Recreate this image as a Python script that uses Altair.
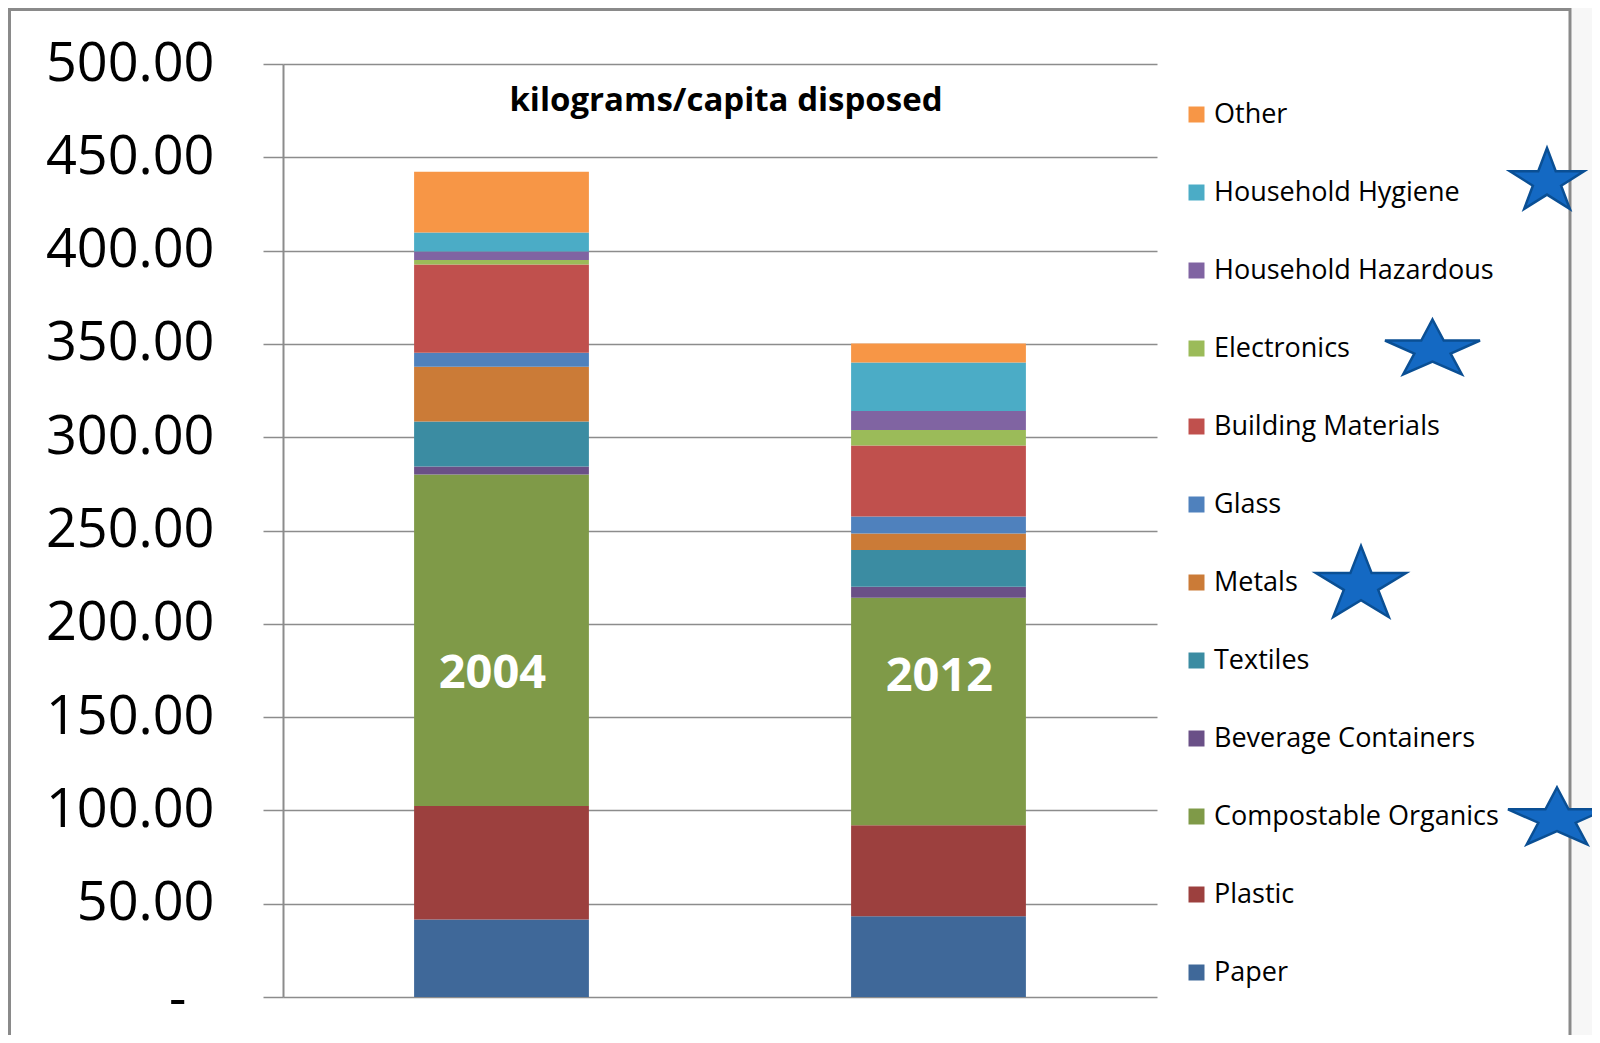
import math
import altair as alt
import pandas as pd

# ---- data (kilograms per capita disposed) ----
years = ["2004", "2012"]
categories = ["Paper", "Plastic", "Compostable Organics", "Beverage Containers",
              "Textiles", "Metals", "Glass", "Building Materials", "Electronics",
              "Household Hazardous", "Household Hygiene", "Other"]
values_2004 = [41.5, 60.9, 177.6, 4.3, 24.1, 29.3, 7.5, 47.3, 2.5, 4.5, 10.2, 32.6]
values_2012 = [43.3, 48.8, 121.8, 5.9, 19.8, 8.8, 9.1, 38.0, 8.4, 10.2, 25.9, 10.2]
colors_bottom_up = ["#3F6899", "#9C403E", "#7F9A48", "#6A5087", "#3B8CA2", "#CB7B37",
                    "#4F81BD", "#C0504D", "#9BBB59", "#8064A2", "#4BACC6", "#F79646"]
y_ticks = [0, 50, 100, 150, 200, 250, 300, 350, 400, 450, 500]
chart_title = "kilograms/capita disposed"

rows = []
for yr, vals in zip(years, [values_2004, values_2012]):
    for i, (c, v) in enumerate(zip(categories, vals)):
        rows.append({"year": yr, "category": c, "value": v, "order": i})
df = pd.DataFrame(rows)

legend_order = categories[::-1]
legend_colors = colors_bottom_up[::-1]

FONT = "Open Sans"
GRID = "#8C8C8C"

bars = alt.Chart(df).mark_bar().encode(
    x=alt.X("year:N", axis=None,
            scale=alt.Scale(paddingInner=0.6, paddingOuter=0.3)),
    y=alt.Y("value:Q", stack="zero",
            scale=alt.Scale(domain=[0, 500], nice=False),
            axis=alt.Axis(values=y_ticks, title=None, grid=True,
                          gridColor=GRID, gridWidth=1.5,
                          domainColor=GRID, domainWidth=2,
                          tickColor=GRID, tickWidth=1.5, tickSize=20,
                          labelFont=FONT, labelFontSize=54, labelColor="#000000",
                          labelPadding={"condition": {"test": "datum.value == 0", "value": 77},
                                        "value": 49},
                          labelBaseline={"condition": {"test": "datum.value == 0",
                                                       "value": "alphabetic"},
                                         "value": "middle"},
                          labelOffset={"condition": {"test": "datum.value == 0", "value": 19},
                                       "value": 0},
                          labelExpr="datum.value == 0 ? '-' : format(datum.value, '.2f')")),
    color=alt.Color("category:N",
                    scale=alt.Scale(domain=legend_order, range=legend_colors),
                    legend=alt.Legend(orient="none", legendX=900, legendY=37,
                                      title=None, symbolType="square", symbolSize=256,
                                      symbolStrokeWidth=0, labelFont=FONT,
                                      labelFontSize=27, labelColor="#000000",
                                      rowPadding=50, labelOffset=4, padding=0,
                                      labelLimit=0)),
    order=alt.Order("order:Q"),
)

label_df = pd.DataFrame({"year": years})
year_label_layers = []
for yr, dx, ypos in zip(years, [-9, 1], [173, 171.5]):
    year_label_layers.append(
        alt.Chart(label_df).transform_filter(alt.datum.year == yr).mark_text(
            font=FONT, fontSize=47, fontWeight="bold", color="white",
            baseline="middle", align="center", dx=dx,
        ).encode(x="year:N", y=alt.datum(ypos), text="year:N")
    )

one = alt.Data(values=[{"k": 0}])

title_layer = alt.Chart(one).mark_text(
    text=chart_title, font=FONT, fontSize=33, fontWeight="bold",
    color="#000000", align="center", baseline="alphabetic",
).encode(x=alt.value(443), y=alt.value(47))

frame = alt.Chart(one).mark_rect(
    fillOpacity=0, stroke="#8A8A8A", strokeWidth=3,
).encode(x=alt.value(-273.5), x2=alt.value(1287), y=alt.value(-54.5), y2=alt.value(1100))

outside = alt.Chart(one).mark_rect(color="#F7F7F7").encode(
    x=alt.value(1288.5), x2=alt.value(1330), y=alt.value(-70), y2=alt.value(1100))


def star_path(w, h):
    m = max(w, h)
    sx, sy = w / m, h / m
    pts = []
    for k in range(10):
        ang = math.radians(-90 + 36 * k)
        rad = 1.0 if k % 2 == 0 else 0.382
        x = rad * math.cos(ang) / 0.9511
        y = (rad * math.sin(ang) + 0.0955) / 0.9045
        pts.append((x * sx, y * sy))
    return "M" + " L".join(f"{x:.4f},{y:.4f}" for x, y in pts) + " Z"


star_specs = [  # (x, y, width, height) annotation stars next to legend entries
    (1264, 114.5, 74, 61),
    (1149.5, 283, 95, 55),
    (1078, 517.5, 90, 71),
    (1274, 752, 98, 57),
]
stars = []
for sxp, syp, w, h in star_specs:
    stars.append(alt.Chart(one).mark_point(
        shape=star_path(w, h), size=max(w, h) ** 2, filled=True,
        fill="#1469C3", stroke="#0A4F94", strokeWidth=2.5, opacity=1,
    ).encode(x=alt.value(sxp), y=alt.value(syp)))

chart = alt.layer(outside, frame, bars, *year_label_layers, title_layer, *stars).properties(
    width=874, height=933,
    autosize=alt.AutoSizeParams(type="none"),
    padding={"left": 275, "top": 56, "right": 435, "bottom": 38},
    background="white",
).configure_view(strokeWidth=0)

chart.save("out.html", embed_options={"renderer": "svg", "actions": False})
